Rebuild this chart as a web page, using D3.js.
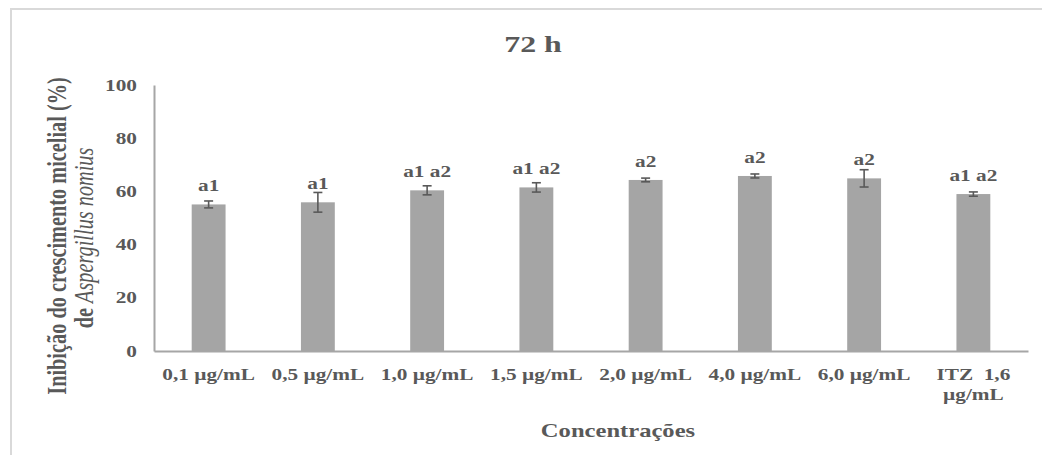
<!DOCTYPE html>
<html><head><meta charset="utf-8">
<script src="https://cdn.jsdelivr.net/npm/d3@7"></script>
<style>
html,body{margin:0;padding:0;background:#fff;}
svg{display:block;}
text{font-family:"Liberation Serif","Times New Roman",serif;font-weight:bold;fill:#595959;}
</style></head>
<body>
<svg id="chart" width="1042" height="455"></svg>
<script>
const categories = ["0,1 µg/mL","0,5 µg/mL","1,0 µg/mL","1,5 µg/mL","2,0 µg/mL","4,0 µg/mL","6,0 µg/mL","ITZ  1,6|µg/mL"];
const values = [55.1, 55.9, 60.4, 61.5, 64.3, 65.8, 64.9, 59.0];
const errors = [1.3, 3.7, 1.7, 1.75, 0.7, 0.75, 3.25, 0.8];
const groupLabels = ["a1","a1","a1 a2","a1 a2","a2","a2","a2","a1 a2"];
const yTicks = [0,20,40,60,80,100];
const title = "72 h";
const xTitle = "Concentrações";
const yTitle1 = "Inibição do crescimento micelial (%)";
const yTitle2a = "de ";
const yTitle2b = "Aspergillus nomius";

(function(){
const SX = 1.33;
const svg = d3.select("#chart");

svg.append("rect").attr("x",11).attr("y",9).attr("width",1100).attr("height",500)
  .attr("fill","none").attr("stroke","#d9d9d9").attr("stroke-width",2);

const pl = 154, pr = 1028, pt = 85, pb = 351;
const x = d3.scaleBand().domain(categories).range([pl,pr]).paddingInner(0.69).paddingOuter(0.345);
const y = d3.scaleLinear().domain([0,100]).range([pb,pt]);

function stext(g, tx, ty, str, size, anchor){
  return g.append("text").attr("transform",`translate(${tx},${ty}) scale(${SX},1)`)
    .attr("text-anchor",anchor||"middle").style("font-size",size+"px").style("white-space","pre").text(str);
}

svg.selectAll("rect.bar").data(values).join("rect").attr("class","bar")
  .attr("x",(d,i)=>x(categories[i])).attr("width",x.bandwidth())
  .attr("y",d=>y(d)).attr("height",d=>pb-y(d)).attr("fill","#a5a5a5");

const eg = svg.append("g").attr("stroke","#595959").attr("stroke-width",1.6);
values.forEach((v,i)=>{
  const cx = x(categories[i]) + x.bandwidth()/2;
  const y1 = y(v+errors[i]), y2 = y(v-errors[i]);
  eg.append("line").attr("x1",cx).attr("x2",cx).attr("y1",y1).attr("y2",y2);
  eg.append("line").attr("x1",cx-4.5).attr("x2",cx+4.5).attr("y1",y1).attr("y2",y1);
  eg.append("line").attr("x1",cx-4.5).attr("x2",cx+4.5).attr("y1",y2).attr("y2",y2);
});

values.forEach((v,i)=>{
  const cx = x(categories[i]) + x.bandwidth()/2;
  stext(svg, cx, y(v)-13, groupLabels[i], 16);
});

const yAxis = d3.axisLeft(y).tickValues(yTicks).tickSize(0).tickPadding(0).tickFormat(d3.format("d"));
const ya = svg.append("g").attr("transform",`translate(${pl},0)`).call(yAxis);
ya.select(".domain").attr("stroke","#a6a6a6").attr("stroke-width",2);
ya.selectAll(".tick text").remove();
yTicks.forEach(t=>{
  stext(svg, 137, y(t)+5.5, String(t), 16, "end");
});

const xAxis = d3.axisBottom(x).tickSize(0).tickFormat("");
const xa = svg.append("g").attr("transform",`translate(0,${pb})`).call(xAxis);
xa.select(".domain").attr("stroke","#a6a6a6").attr("stroke-width",2);
categories.forEach(c=>{
  const cx = x(c) + x.bandwidth()/2;
  c.split("|").forEach((line,k)=>{
    stext(svg, cx, 380 + k*20, line, 16);
  });
});

stext(svg, 533, 52, title, 24);
stext(svg, 618, 437, xTitle, 18.5);

const yt = svg.append("g");
yt.append("text").attr("transform",`translate(66,236) rotate(-90) scale(1,${SX})`)
  .attr("text-anchor","middle").style("font-size","20.3px").text(yTitle1);
const t2 = yt.append("text").attr("transform",`translate(93,238) rotate(-90) scale(1,${SX})`)
  .attr("text-anchor","middle").style("font-size","20.3px").style("white-space","pre");
t2.append("tspan").text(yTitle2a);
t2.append("tspan").style("font-style","italic").style("font-weight","normal").text(yTitle2b);
})();
</script>
</body></html>
